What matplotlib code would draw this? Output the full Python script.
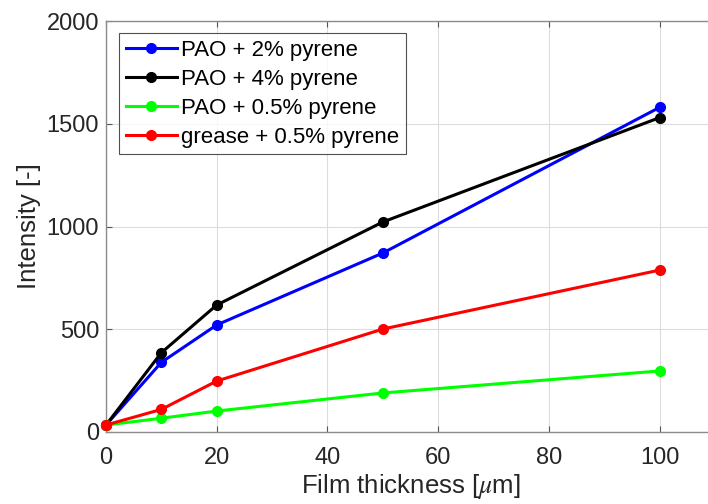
import matplotlib
matplotlib.use("Agg")
import matplotlib.pyplot as plt

thickness = [0, 10, 20, 50, 100]
pao_2 = [34, 339, 521, 871, 1580]
pao_4 = [34, 386, 618, 1022, 1530]
pao_05 = [34, 67, 102, 190, 297]
grease_05 = [34, 110, 248, 501, 788]
labels = ["PAO + 2% pyrene", "PAO + 4% pyrene", "PAO + 0.5% pyrene", "grease + 0.5% pyrene"]
colors = ["#0000ff", "#000000", "#00ff00", "#ff0000"]
xticks = [0, 20, 40, 60, 80, 100]
yticks = [0, 500, 1000, 1500, 2000]

plt.rcParams['font.family'] = ['Liberation Sans', 'DejaVu Sans']
plt.rcParams['mathtext.fontset'] = 'stix'

fig = plt.figure(figsize=(7.08, 5.04), dpi=100)
ax = fig.add_axes([106/708, (504-432)/504, (708-106)/708 + 0.01, (432-21)/504])

txt = '#262626'
for ys, lab, c in zip([pao_2, pao_4, pao_05, grease_05], labels, colors):
    ax.plot(thickness, ys, '-o', color=c, lw=2.2, ms=7, label=lab, clip_on=False, zorder=3)

ax.set_xlim(0, 110)
ax.set_ylim(0, 2000)
ax.set_xticks(xticks)
ax.set_yticks(yticks)
ax.grid(True, color='#dcdcdc', lw=0.8)
ax.set_axisbelow(True)
ax.tick_params(direction='in', top=True, right=False, labelsize=17, colors='#555555', labelcolor=txt, length=4)
ax.tick_params(axis='x', pad=11)
ax.tick_params(axis='y', pad=5)
for s in ['left', 'bottom', 'top']:
    ax.spines[s].set_color('#8c8c8c')
    ax.spines[s].set_linewidth(1.0)
ax.spines['right'].set_visible(False)

ax.set_xlabel(r"Film thickness [$\mu$m]", fontsize=18.5, color=txt, labelpad=2)
ax.set_ylabel("Intensity [-]", fontsize=18.5, color=txt, labelpad=4)

leg = ax.legend(loc='upper left', fontsize=16, frameon=True, fancybox=False,
                edgecolor='#262626', borderpad=0.3, labelspacing=0.36,
                handlelength=2.3, handletextpad=0.2, borderaxespad=0.0,
                bbox_to_anchor=(13/602, 1 - 12/411))
leg.get_frame().set_linewidth(0.8)

fig.savefig("out.png", dpi=100)
